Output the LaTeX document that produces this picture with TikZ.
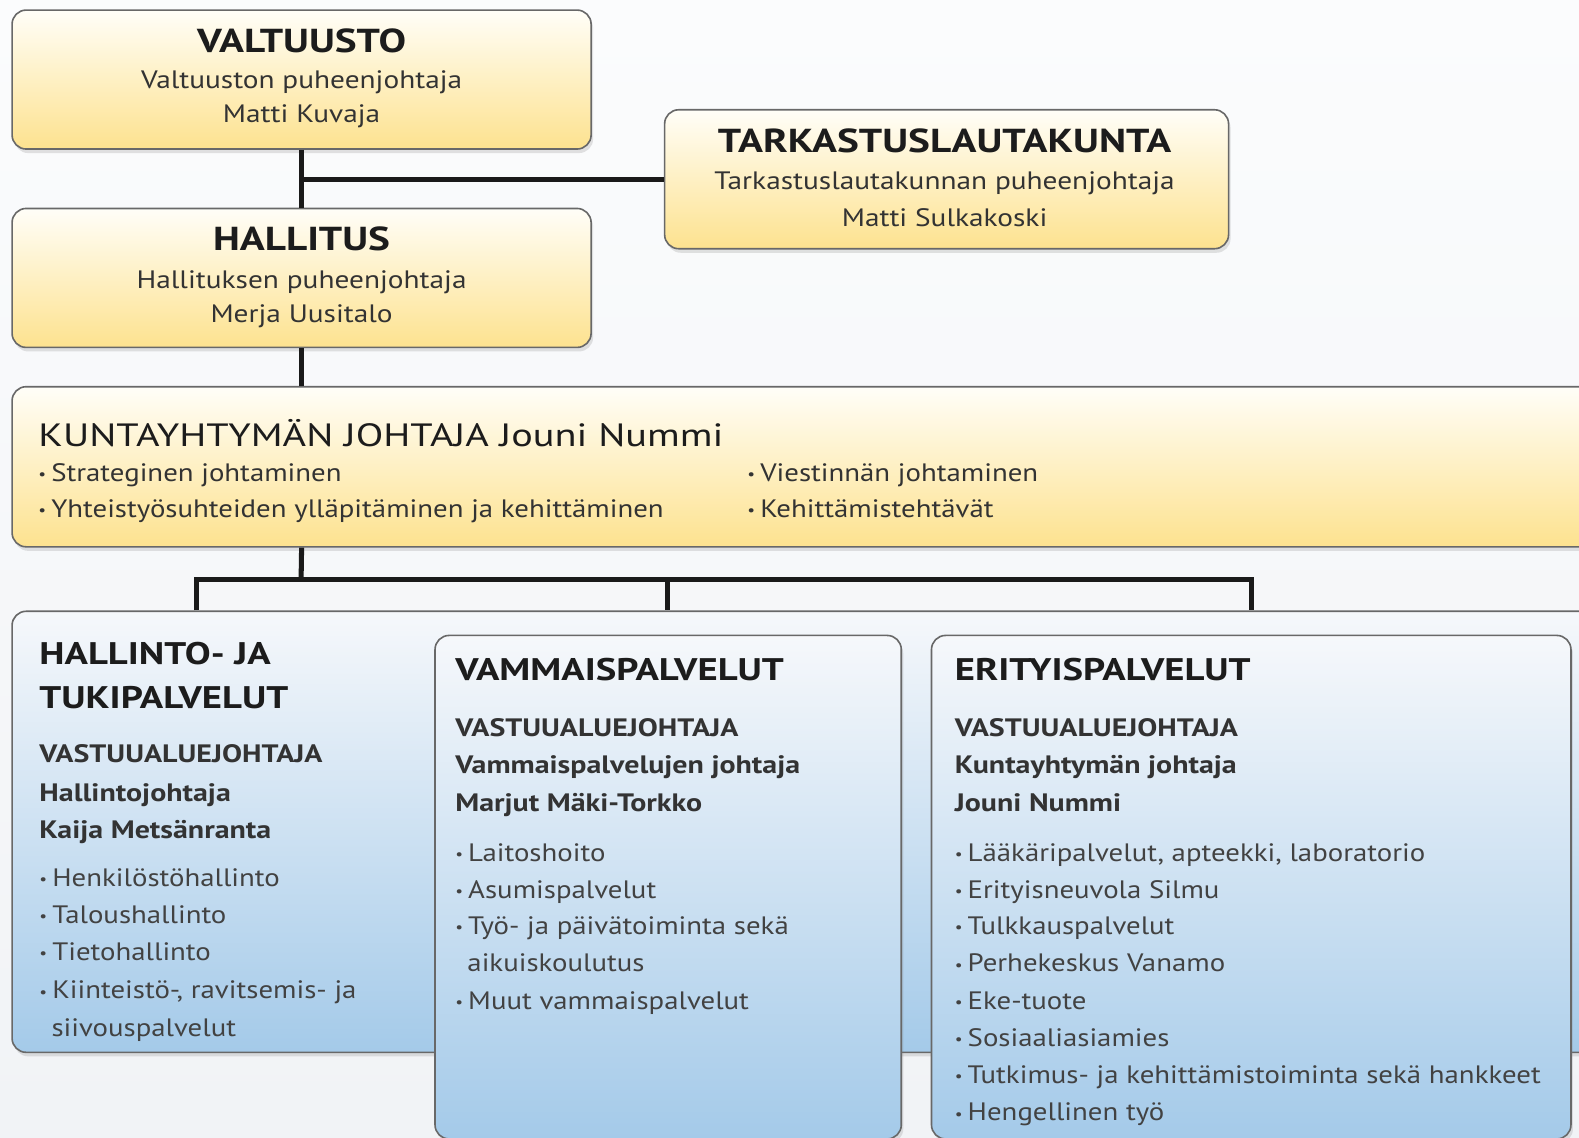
\documentclass[tikz,border=0pt]{standalone}
\usepackage{fontspec}
\setmainfont{PT Sans}[FakeStretch=1.145]
\newfontfamily\stf{PT Sans}[FakeStretch=1.165]
\newfontfamily\tbf{PT Sans}[FakeStretch=1.24]
\newfontfamily\sbf{PT Sans}[FakeStretch=1.19]
\newfontfamily\ktf{PT Sans}[FakeStretch=1.25]
\usetikzlibrary{shadows}
\definecolor{tc}{HTML}{1C1C1C}
\definecolor{sc}{HTML}{333333}
\definecolor{bc}{HTML}{424242}
\definecolor{edge}{HTML}{686868}
\definecolor{ytop}{HTML}{FFFEF8}
\definecolor{ybot}{HTML}{FDE28F}
\definecolor{btop}{HTML}{F6F8FB}
\definecolor{bbot}{HTML}{A4CAE9}
\definecolor{conn}{HTML}{1A1A1A}
\definecolor{bgtop}{HTML}{FBFCFD}
\definecolor{bgbot}{HTML}{F1F3F6}
\newcommand\fs[1]{\fontsize{#1}{#1}\selectfont}
\newcommand\bu{\raisebox{0.07em}{\scalebox{0.6}{•}}\hspace{0.2em}}
\tikzset{
  box/.style={draw=edge, line width=1.6pt, rounded corners=14pt, inner sep=0pt,
    drop shadow={opacity=0.22, shadow xshift=2pt, shadow yshift=-4pt}},
  ybox/.style={box, top color=ytop, bottom color=ybot},
  bbox/.style={box, top color=btop, bottom color=bbot},
  ct/.style={inner sep=0pt, anchor=base},
  lt/.style={inner sep=0pt, anchor=base west},
  conline/.style={draw=conn, line width=5pt},
}
\begin{document}
\begin{tikzpicture}[x=1pt,y=-1pt]
\useasboundingbox (0,0) rectangle (1568,1130);
\clip (0,0) rectangle (1568,1130);
\shade[top color=bgtop, bottom color=bgbot] (0,0) rectangle (1568,1130);

% yellow boxes
\node[ybox, minimum width=575pt, minimum height=138pt] (valt) at (299.5,79) {};
\node[ybox, minimum width=560pt, minimum height=138pt] (tark) at (940,178) {};
\node[ybox, minimum width=575pt, minimum height=138pt] (hall) at (299.5,276) {};
\node[ybox, minimum width=1600pt, minimum height=159pt] (kunta) at (812,463.5) {};

% connectors upper part
\draw[conline] (valt.south) -- (hall.north);
\draw[conline] (tark.west) -- (tark.west -| valt.south);
\draw[conline] (hall.south) -- (hall.south |- kunta.north);

% blue boxes
\node[bbox, minimum width=1600pt, minimum height=438pt] (tuki) at (812,826) {};
\node[bbox, minimum width=463pt, minimum height=500pt] (vamm) at (663.5,881) {};
\node[bbox, minimum width=635pt, minimum height=500pt] (erit) at (1242.5,881) {};

% lower connectors
\coordinate (j0) at (kunta.south -| hall.south);
\coordinate (jm) at (299,575);
\coordinate (jl) at (195,575);
\coordinate (jr) at (1243,575);
\coordinate (jv) at (663,575);
\draw[conline] (j0) -- (jm);
\draw[conline, line join=miter] (jl |- tuki.north) -- (jl) -- (jr) -- (jr |- tuki.north);
\draw[conline] (jv) -- (jv |- tuki.north);

% texts valtuusto
\node[ct, text=tc] (v1) at (299.5,52) {\fs{33}\tbf\bfseries VALTUUSTO};
\node[ct, text=sc] (v2) at (299.5,88) {\fs{25}\stf Valtuuston puheenjohtaja};
\node[ct, text=sc] (v3) at (299.5,122) {\fs{25}\stf Matti Kuvaja};
% hallitus
\node[ct, text=tc] (h1) at (299.5,249) {\fs{33}\tbf\bfseries HALLITUS};
\node[ct, text=sc] (h2) at (299.5,286) {\fs{25}\stf Hallituksen puheenjohtaja};
\node[ct, text=sc] (h3) at (299.5,320) {\fs{25}\stf Merja Uusitalo};
% tarkastus
\node[ct, text=tc] (k1) at (938,151.5) {\fs{33}\tbf\bfseries TARKASTUSLAUTAKUNTA};
\node[ct, text=sc] (k2) at (938,188.5) {\fs{25}\stf Tarkastuslautakunnan puheenjohtaja};
\node[ct, text=sc] (k3) at (938,225) {\fs{25}\stf Matti Sulkakoski};
% kuntayhtyma
\node[lt, text=tc] (ku1) at (38,443) {\fs{32}\ktf KUNTAYHTYMÄN JOHTAJA Jouni Nummi};
\node[lt, text=sc] (ku2) at (38,478) {\fs{25}\bu Strateginen johtaminen};
\node[lt, text=sc] (ku3) at (38,514) {\fs{25}\bu Yhteistyösuhteiden ylläpitäminen ja kehittäminen};
\node[lt, text=sc] (ku4) at (742,478) {\fs{25}\bu Viestinnän johtaminen};
\node[lt, text=sc] (ku5) at (742,514) {\fs{25}\bu Kehittämistehtävät};

% hallinto- ja tukipalvelut
\node[lt, text=tc] (a1) at (39,660) {\fs{31}\tbf\bfseries HALLINTO- JA};
\node[lt, text=tc] (a2) at (39,704) {\fs{31}\tbf\bfseries TUKIPALVELUT};
\node[lt, text=sc] (a3) at (39,757) {\fs{25}\sbf\bfseries VASTUUALUEJOHTAJA};
\node[lt, text=sc] (a4) at (39,796) {\fs{25}\sbf\bfseries Hallintojohtaja};
\node[lt, text=sc] (a5) at (39,833) {\fs{25}\sbf\bfseries Kaija Metsänranta};
\node[lt, text=bc] (a6) at (39,880) {\fs{25}\bu Henkilöstöhallinto};
\node[lt, text=bc] (a7) at (39,917) {\fs{25}\bu Taloushallinto};
\node[lt, text=bc] (a8) at (39,954) {\fs{25}\bu Tietohallinto};
\node[lt, text=bc] (a9) at (39,992) {\fs{25}\bu Kiinteistö-, ravitsemis- ja};
\node[lt, text=bc] (a10) at (51,1029) {\fs{25}siivouspalvelut};

% vammaispalvelut
\node[lt, text=tc] (b1) at (452,676) {\fs{31}\tbf\bfseries VAMMAISPALVELUT};
\node[lt, text=sc] (b2) at (452,731) {\fs{25}\sbf\bfseries VASTUUALUEJOHTAJA};
\node[lt, text=sc] (b3) at (452,768) {\fs{25}\sbf\bfseries Vammaispalvelujen johtaja};
\node[lt, text=sc] (b4) at (452,806) {\fs{25}\sbf\bfseries Marjut Mäki-Torkko};
\node[lt, text=bc] (b5) at (452,855) {\fs{25}\bu Laitoshoito};
\node[lt, text=bc] (b6) at (452,892) {\fs{25}\bu Asumispalvelut};
\node[lt, text=bc] (b7) at (452,928) {\fs{25}\bu Työ- ja päivätoiminta sekä};
\node[lt, text=bc] (b8) at (464,965) {\fs{25}aikuiskoulutus};
\node[lt, text=bc] (b9) at (452,1002) {\fs{25}\bu Muut vammaispalvelut};

% erityispalvelut
\node[lt, text=tc] (c1) at (948,676) {\fs{31}\tbf\bfseries ERITYISPALVELUT};
\node[lt, text=sc] (c2) at (948,731) {\fs{25}\sbf\bfseries VASTUUALUEJOHTAJA};
\node[lt, text=sc] (c3) at (948,768) {\fs{25}\sbf\bfseries Kuntayhtymän johtaja};
\node[lt, text=sc] (c4) at (948,806) {\fs{25}\sbf\bfseries Jouni Nummi};
\node[lt, text=bc] (c5) at (948,855) {\fs{25}\bu Lääkäripalvelut, apteekki, laboratorio};
\node[lt, text=bc] (c6) at (948,892) {\fs{25}\bu Erityisneuvola Silmu};
\node[lt, text=bc] (c7) at (948,928) {\fs{25}\bu Tulkkauspalvelut};
\node[lt, text=bc] (c8) at (948,965) {\fs{25}\bu Perhekeskus Vanamo};
\node[lt, text=bc] (c9) at (948,1002) {\fs{25}\bu Eke-tuote};
\node[lt, text=bc] (c10) at (948,1039) {\fs{25}\bu Sosiaaliasiamies};
\node[lt, text=bc] (c11) at (948,1076) {\fs{25}\bu Tutkimus- ja kehittämistoiminta sekä hankkeet};
\node[lt, text=bc] (c12) at (948,1113) {\fs{25}\bu Hengellinen työ};
\end{tikzpicture}
\end{document}
